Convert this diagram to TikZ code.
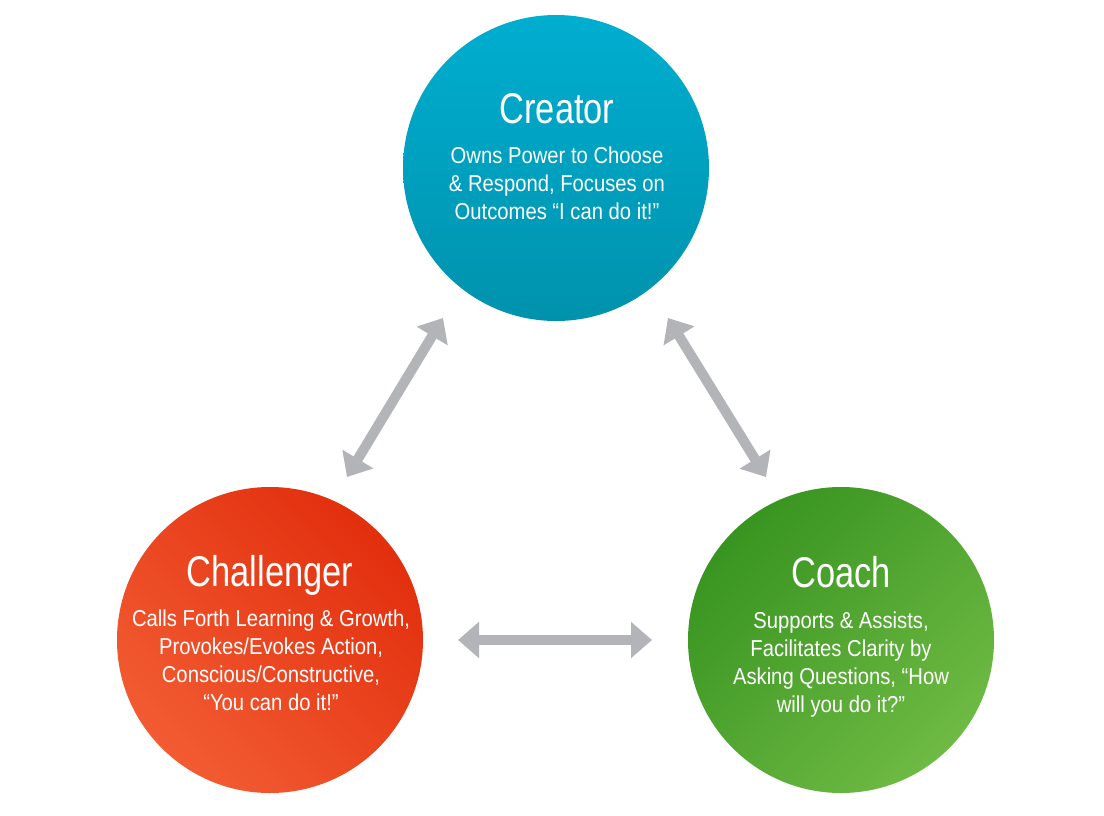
\documentclass[tikz,border=0pt]{standalone}
\usepackage{fontspec}
\setmainfont{Liberation Sans}
\newfontfamily\titlefont{Liberation Sans}[FakeStretch=0.8]
\newfontfamily\bodyfont{Liberation Sans}[FakeStretch=0.88]
\usetikzlibrary{arrows.meta}
\definecolor{creTop}{HTML}{00AED0}
\definecolor{creBot}{HTML}{0092AD}
\definecolor{chaDark}{HTML}{E22F0E}
\definecolor{chaLight}{HTML}{F25C32}
\definecolor{coaDark}{HTML}{389420}
\definecolor{coaLight}{HTML}{6EBA44}
\definecolor{arrgray}{HTML}{B3B4B8}
\tikzset{
  bubble/.style={circle, minimum size=306pt, inner sep=0pt, draw=none},
  ttl/.style={text=white, anchor=base, font=\titlefont\fontsize{43}{43}\selectfont, inner sep=0pt},
  body/.style={text=white, anchor=base, align=center, font=\bodyfont\fontsize{23}{28}\selectfont, inner sep=0pt},
  link/.style={draw=arrgray, line width=10pt, {Triangle[length=21pt,width=35pt]}-{Triangle[length=21pt,width=35pt]}}
}
\begin{document}
\begin{tikzpicture}[x=1pt,y=-1pt]
\useasboundingbox[fill=white] (0,0) rectangle (1104,815);
\node[bubble, top color=creTop, bottom color=creBot] (creator) at (556,168) {};
\node[bubble, top color=chaDark, bottom color=chaLight, shading angle=-45] (challenger) at (270,640) {};
\node[bubble, top color=coaDark, bottom color=coaLight, shading angle=45] (coach) at (841,640) {};

\node[ttl] (creT) at (557,123) {Creator};
\node[body] (creB) at (557,219) {Owns Power to Choose\\ \& Respond, Focuses on\\ Outcomes “I can do it!”};

\node[ttl] (chaT) at (270,586) {Challenger};
\node[body] (chaB) at (271,710) {Calls Forth Learning \& Growth,\\ Provokes/Evokes Action,\\ Conscious/Constructive,\\ “You can do it!”};

\node[ttl] (coaT) at (841,587) {Coach};
\node[body] (coaB) at (841,712) {Supports \& Assists,\\ Facilitates Clarity by\\ Asking Questions, “How\\ will you do it?”};

\coordinate (a1s) at (347,477);
\coordinate (a1e) at (443,318);
\coordinate (a2s) at (668,318);
\coordinate (a2e) at (766,477);
\coordinate (a3s) at (458,640);
\coordinate (a3e) at (652,640);
\draw[link] (a1s) -- (a1e);
\draw[link] (a2s) -- (a2e);
\draw[link] (a3s) -- (a3e);
\end{tikzpicture}
\end{document}
